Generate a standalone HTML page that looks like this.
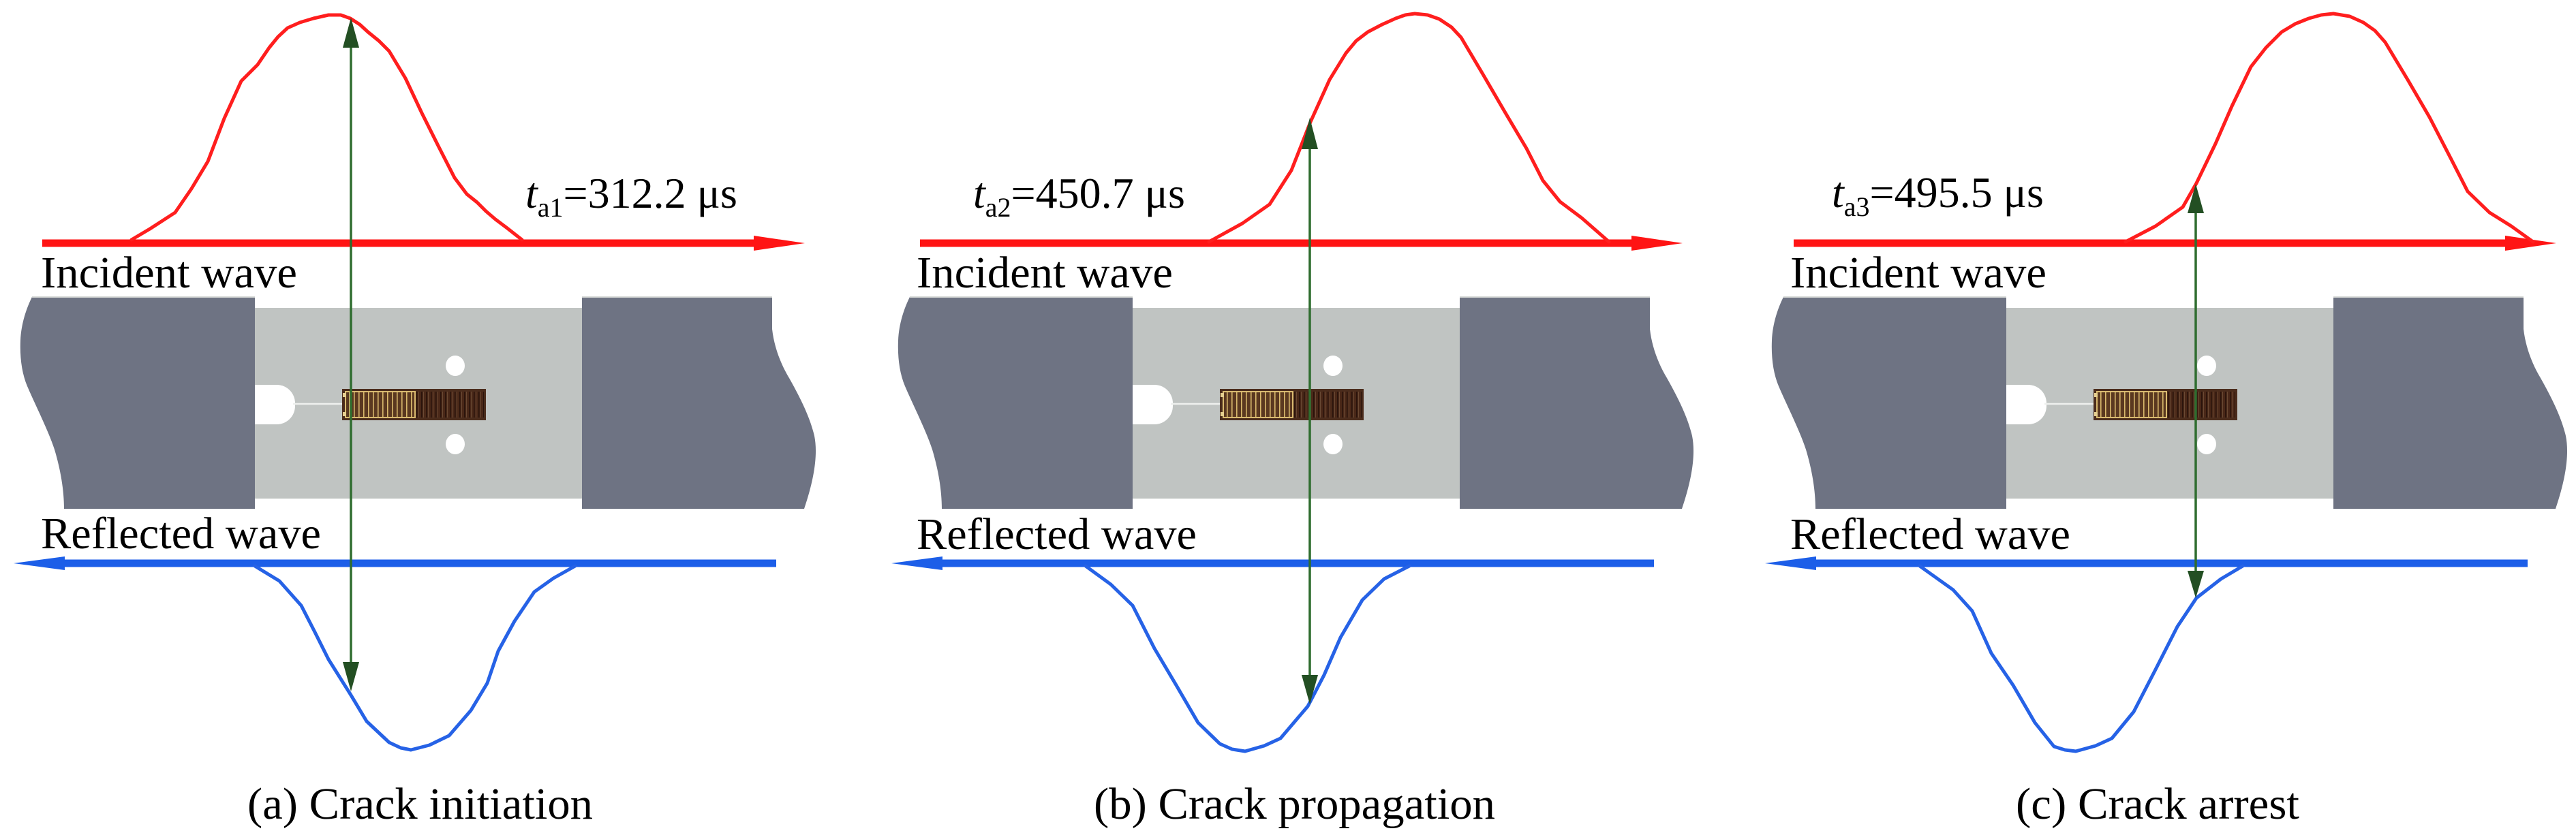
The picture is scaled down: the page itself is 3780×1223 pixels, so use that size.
<!DOCTYPE html>
<html>
<head>
<meta charset="utf-8">
<style>
  html, body { margin:0; padding:0; background:#ffffff; }
  body { width:3780px; height:1223px; overflow:hidden; }
  svg { display:block; }
  text { font-family: "Liberation Serif", "Times New Roman", serif; fill:#000; }
</style>
</head>
<body>
<svg xmlns="http://www.w3.org/2000/svg" width="3780" height="1223" viewBox="0 0 3780 1223">
  <defs>
    <pattern id="goldLines" x="0" y="0" width="7" height="50" patternUnits="userSpaceOnUse">
      <rect x="0" y="0" width="7" height="50" fill="#5a3820"/>
      <rect x="1" y="0" width="1.6" height="50" fill="#d8b86c"/>
    </pattern>
    <pattern id="darkLines" x="0" y="0" width="7" height="50" patternUnits="userSpaceOnUse">
      <rect x="0" y="0" width="7" height="50" fill="#4a2818"/>
      <rect x="2" y="0" width="1.6" height="50" fill="#2a140c"/>
      <rect x="5" y="0" width="1" height="50" fill="#6a4a34"/>
    </pattern>

    <g id="specimen">
      <rect x="370" y="452" width="488" height="280" fill="#c0c4c2"/>
      <rect x="350" y="565" width="83" height="58" rx="27" ry="27" fill="#ffffff"/>
      <line x1="430" y1="593" x2="503" y2="593" stroke="#eef0ee" stroke-width="2.5"/>
      <ellipse cx="668" cy="537" rx="14" ry="15" fill="#ffffff"/>
      <ellipse cx="668" cy="652" rx="14" ry="15" fill="#ffffff"/>
      <rect x="502" y="571" width="211" height="46" fill="#4b2c1c"/>
      <rect x="507" y="575" width="102" height="38" fill="url(#goldLines)"/>
      <rect x="609" y="575" width="101" height="38" fill="url(#darkLines)"/>
      <rect x="507" y="575" width="102" height="38" fill="none" stroke="#d9ba70" stroke-width="2"/>
      <rect x="503" y="577" width="5" height="6" fill="#e6cf90"/>
      <rect x="503" y="605" width="5" height="6" fill="#e6cf90"/>
      <path d="M47,436 H374 V747 H94 C94,720 89,690 80,660 C70,630 52,595 40,567 C32,548 29,525 30,500 C31,475 39,452 47,436 Z" fill="#6e7383"/>
      <line x1="47" y1="436" x2="374" y2="436" stroke="#dadcda" stroke-width="2"/>
      <path d="M854,436 H1133 L1133,483 C1136,510 1146,535 1158,555 C1172,580 1188,610 1195,640 C1200,665 1196,700 1180,747 H854 Z" fill="#6e7383"/>
      <line x1="854" y1="436" x2="1133" y2="436" stroke="#dadcda" stroke-width="2"/>
      <line x1="62" y1="357" x2="1112" y2="357" stroke="#ff1414" stroke-width="11"/>
      <polygon points="1106,346 1181,357 1106,368" fill="#ff1414"/>
      <line x1="90" y1="827" x2="1139" y2="827" stroke="#1c5ee8" stroke-width="11"/>
      <polygon points="95,817 20,827 95,837" fill="#1c5ee8"/>
    </g>
  </defs>

  <use href="#specimen" x="0" y="0"/>
  <use href="#specimen" x="1288" y="0"/>
  <use href="#specimen" x="2570" y="0"/>

  <!-- Pulses panel a -->
  <polyline fill="none" stroke="#ff1e1e" stroke-width="5" stroke-linejoin="round" stroke-linecap="round"
    points="193,352 220,336 257,312 281,277 305,237 329,174 354,119 378,95 395,70 408,54 422,41 440,33 460,27 482,22 500,22 514,27 528,36 540,47 556,60 571,75 595,115 619,166 643,214 667,261 685,285 700,297 713,310 727,322 743,334 766,352"/>
  <polyline fill="none" stroke="#2662e6" stroke-width="5" stroke-linejoin="round" stroke-linecap="round"
    points="374,831 410,853 442,889 462,928 482,968 514,1019 538,1059 571,1090 588,1098 603,1101 630,1094 659,1080 691,1043 715,1003 731,956 755,912 784,869 812,849 844,831"/>

  <!-- Pulses panel b -->
  <polyline fill="none" stroke="#ff1e1e" stroke-width="5" stroke-linejoin="round" stroke-linecap="round"
    points="1774,355 1823,328 1863,300 1895,250 1923,179 1951,117 1975,78 1990,60 2007,47 2028,36 2048,27 2062,22 2076,20 2095,22 2112,28 2130,40 2144,55 2176,109 2208,164 2240,218 2264,265 2289,296 2321,320 2361,355"/>
  <polyline fill="none" stroke="#2662e6" stroke-width="5" stroke-linejoin="round" stroke-linecap="round"
    points="1593,831 1630,858 1662,889 1694,952 1726,1006 1758,1061 1790,1092 1808,1100 1827,1103 1855,1095 1879,1084 1919,1037 1943,991 1967,936 1999,881 2031,850 2068,831"/>

  <!-- Pulses panel c -->
  <polyline fill="none" stroke="#ff1e1e" stroke-width="5" stroke-linejoin="round" stroke-linecap="round"
    points="3119,355 3163,332 3203,304 3223,269 3251,211 3275,156 3303,98 3325,70 3348,47 3368,35 3388,27 3406,22 3424,20 3448,24 3468,33 3485,45 3500,62 3533,117 3565,172 3597,234 3621,281 3653,312 3685,332 3717,355"/>
  <polyline fill="none" stroke="#2662e6" stroke-width="5" stroke-linejoin="round" stroke-linecap="round"
    points="2817,831 2866,866 2894,897 2922,959 2954,1006 2986,1061 3014,1096 3030,1101 3046,1103 3075,1095 3099,1084 3131,1045 3163,983 3195,920 3223,878 3259,850 3291,831"/>

  <!-- Green double arrows -->
  <g stroke="#2f6d2f" stroke-width="3.5">
    <line x1="515" y1="66" x2="515" y2="976"/>
    <line x1="1922" y1="215" x2="1922" y2="995"/>
    <line x1="3222" y1="309" x2="3222" y2="842"/>
  </g>
  <g fill="#234f23">
    <polygon points="503,70 515,26 527,70"/>
    <polygon points="503,972 515,1015 527,972"/>
    <polygon points="1910,219 1922,173 1934,219"/>
    <polygon points="1910,991 1922,1034 1934,991"/>
    <polygon points="3210,313 3222,270 3234,313"/>
    <polygon points="3210,838 3222,878 3234,838"/>
  </g>

  <!-- Labels panel a -->
  <text x="771" y="305" font-size="64"><tspan font-style="italic">t</tspan><tspan font-size="40" dy="13">a1</tspan><tspan dy="-13">=312.2 μs</tspan></text>
  <text x="60" y="422" font-size="66" textLength="376" lengthAdjust="spacingAndGlyphs">Incident wave</text>
  <text x="60" y="805" font-size="66" textLength="411" lengthAdjust="spacingAndGlyphs">Reflected wave</text>
  <text x="363" y="1202" font-size="66" textLength="507" lengthAdjust="spacingAndGlyphs">(a) Crack initiation</text>

  <!-- Labels panel b -->
  <text x="1428" y="305" font-size="64"><tspan font-style="italic">t</tspan><tspan font-size="40" dy="13">a2</tspan><tspan dy="-13">=450.7 μs</tspan></text>
  <text x="1345" y="422" font-size="66" textLength="376" lengthAdjust="spacingAndGlyphs">Incident wave</text>
  <text x="1345" y="806" font-size="66" textLength="411" lengthAdjust="spacingAndGlyphs">Reflected wave</text>
  <text x="1605" y="1202" font-size="66" textLength="589" lengthAdjust="spacingAndGlyphs">(b) Crack propagation</text>

  <!-- Labels panel c -->
  <text x="2688" y="304" font-size="64"><tspan font-style="italic">t</tspan><tspan font-size="40" dy="13">a3</tspan><tspan dy="-13">=495.5 μs</tspan></text>
  <text x="2627" y="422" font-size="66" textLength="376" lengthAdjust="spacingAndGlyphs">Incident wave</text>
  <text x="2627" y="806" font-size="66" textLength="411" lengthAdjust="spacingAndGlyphs">Reflected wave</text>
  <text x="2958" y="1202" font-size="66" textLength="416" lengthAdjust="spacingAndGlyphs">(c) Crack arrest</text>
</svg>
</body>
</html>
